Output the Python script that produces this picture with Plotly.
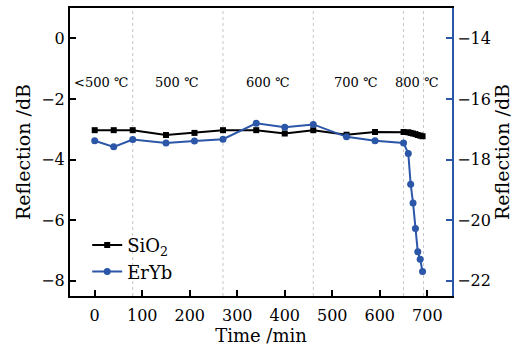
import plotly.graph_objects as go

time_min = [0, 40, 80, 150, 210, 270, 340, 400, 460, 530, 590, 650, 660, 665, 670, 675, 680, 685, 690]
sio2_db = [-3.03, -3.03, -3.03, -3.19, -3.12, -3.03, -3.03, -3.14, -3.03, -3.18, -3.09,
           -3.09, -3.10, -3.12, -3.14, -3.16, -3.19, -3.21, -3.23]
eryb_db = [-17.38, -17.58, -17.34, -17.45, -17.39, -17.33, -16.80, -16.93, -16.84, -17.25, -17.38,
           -17.45, -17.80, -18.81, -19.43, -20.27, -21.04, -21.29, -21.69]

stage_bounds = [80, 270, 460, 650, 692]
stage_labels = ["&lt;500 ℃", "500 ℃", "600 ℃", "700 ℃", "800 ℃"]
stage_label_x = [14, 173, 364, 549, 679]

BLUE = "#2c56a8"
FONT = "DejaVu Serif"

fig = go.Figure()
fig.add_trace(go.Scatter(
    x=time_min, y=sio2_db, name="SiO<sub>2</sub>", mode="lines+markers",
    line=dict(color="black", width=2), marker=dict(symbol="square", size=6, color="black"),
))
fig.add_trace(go.Scatter(
    x=time_min, y=eryb_db, name="ErYb", mode="lines+markers", yaxis="y2",
    line=dict(color=BLUE, width=2), marker=dict(symbol="circle", size=7, color=BLUE),
))

for b in stage_bounds:
    fig.add_shape(type="line", xref="x", yref="paper", x0=b, x1=b, y0=0, y1=1,
                  line=dict(color="#c8c8c8", width=1, dash="dot"), layer="below")

for lab, lx in zip(stage_labels, stage_label_x):
    fig.add_annotation(x=lx, y=-1.45, xref="x", yref="y", text=lab, showarrow=False,
                       font=dict(family=FONT, size=13, color="black"))

fig.update_layout(
    width=530, height=350,
    margin=dict(l=70, r=78, t=6, b=54),
    paper_bgcolor="white", plot_bgcolor="white",
    font=dict(family=FONT, size=16, color="black"),
    showlegend=True,
    legend=dict(x=0.045, y=0.24, xanchor="left", yanchor="top", bgcolor="rgba(0,0,0,0)",
                font=dict(family=FONT, size=18), itemwidth=30, tracegroupgap=0),
    xaxis=dict(range=[-52, 752], dtick=100, tick0=0, showgrid=False, zeroline=False,
               showline=True, linecolor="black", linewidth=2, mirror=True,
               ticks="inside", ticklen=6, tickwidth=1.5, tickcolor="black",
               ticklabelstandoff=4,
               title=dict(text="Time /min", font=dict(size=18), standoff=2)),
    yaxis=dict(range=[-8.5, 1], dtick=2, tick0=0, showgrid=False, zeroline=False,
               showline=True, linecolor="black", linewidth=2,
               ticks="inside", ticklen=6, tickwidth=1.5, tickcolor="black",
               title=dict(text="Reflection /dB", font=dict(size=19), standoff=6)),
    yaxis2=dict(range=[-22.5, -13], dtick=2, tick0=-14, overlaying="y", side="right",
                showgrid=False, zeroline=False,
                showline=True, linecolor=BLUE, linewidth=2,
                ticks="inside", ticklen=6, tickwidth=1.5, tickcolor=BLUE,
                tickfont=dict(color="black"),
                title=dict(text="Reflection /dB", font=dict(size=19), standoff=6)),
)

fig.write_html("out.html")
